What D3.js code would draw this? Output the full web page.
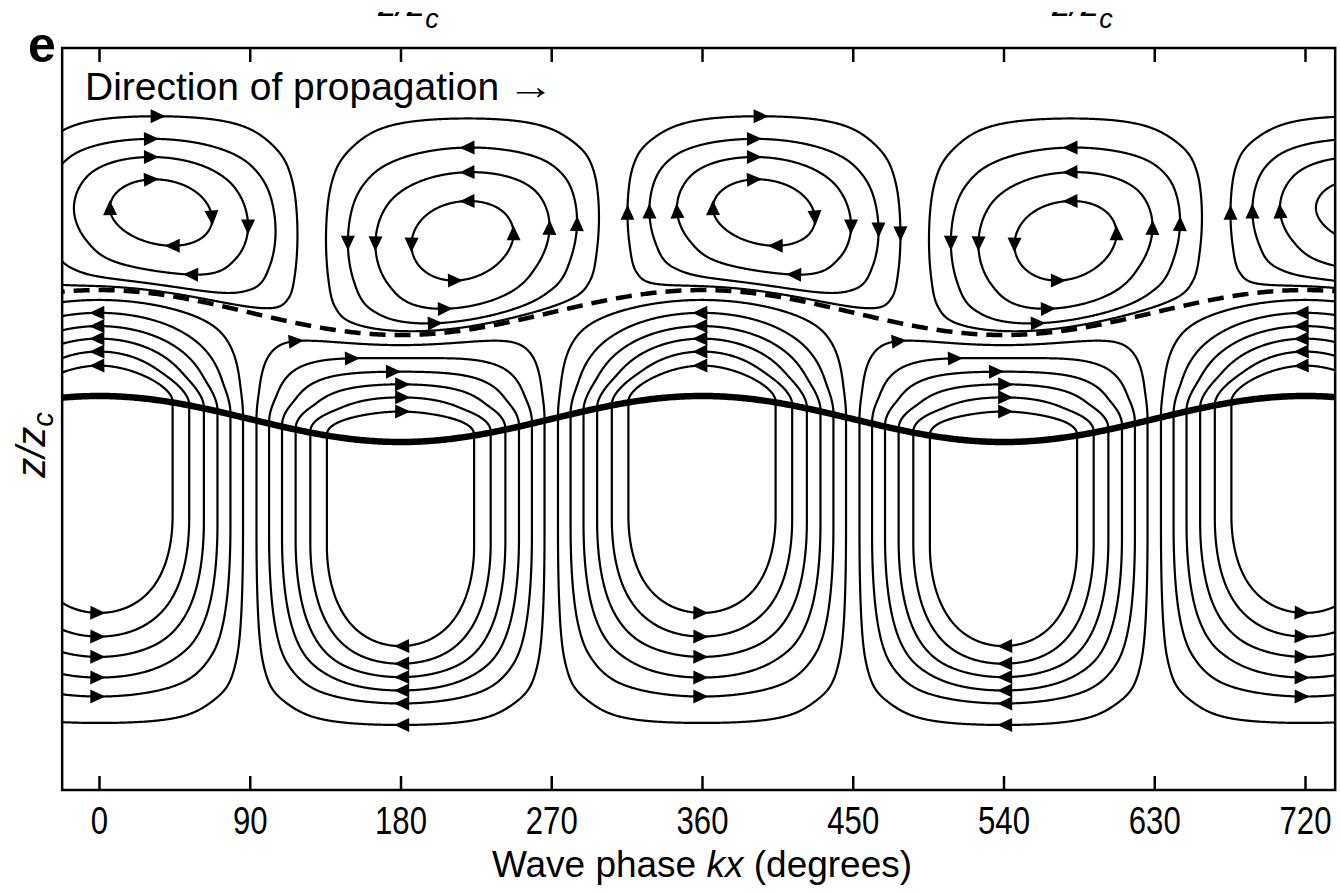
<!DOCTYPE html>
<html>
<head>
<meta charset="utf-8">
<script src="https://cdn.jsdelivr.net/npm/d3@7"></script>
<style>
  html, body { margin: 0; padding: 0; background: #fff; }
  svg { display: block; }
  text { font-family: "Liberation Sans", Arial, Helvetica, sans-serif; fill: #000; }
</style>
</head>
<body>
<svg id="chart" width="1340" height="893"></svg>
<script>
// ---------------- data ----------------
const phaseTicks = [0, 90, 180, 270, 360, 450, 540, 630, 720];
const phaseExtent = [-22, 738];          // wave phase kx (degrees) shown in the frame
const heightExtent = [0, 2];             // z / z_c

// vertical wave displacement amplitude (z/z_c units) against undisturbed height
const dispHeights = [0, 0.178, 0.431, 0.674, 0.997, 1.287, 1.423, 1.62, 1.873, 2.0];
const dispAmps    = [0, 0.0027, 0.0445, 0.0566, 0.062, 0.0606, 0.059, 0.036, 0, 0];

// upper closed cells above the dashed level
const upperPhase = 37;                   // phase of the clockwise cells' centres
const upperProfileZ = [1.286, 1.295, 1.313, 1.349, 1.422, 1.519, 1.616, 1.685, 1.743, 1.813, 1.852];
const upperProfileV = [0, 0.148, 0.368, 0.616, 0.862, 1, 0.862, 0.616, 0.368, 0.148, 0];
const upperLevels = [0.148, 0.368, 0.616, 0.862];

// lower cells spanning the critical level
const lowerProfileZ = [0.151, 0.178, 0.2426, 0.2857, 0.3315, 0.377, 0.4326, 0.698, 1.003, 1.082, 1.120, 1.155, 1.189, 1.225, 1.260, 1.279];
const lowerProfileV = [0, 0.07, 0.20, 0.33, 0.46, 0.59, 0.72, 1, 1, 0.72, 0.59, 0.46, 0.33, 0.20, 0.07, 0];
const lowerLevels = [0.07, 0.20, 0.33, 0.46, 0.59, 0.72];

const criticalZ = 1.0;                   // thick line
const dashedZ = 1.287;                   // dashed line

// flow-direction arrowheads: [phase, displayed z, streamline level index]
const upperArrows = [
  [35, 1.819, 0], [31, 1.755, 1], [31, 1.703, 2], [31, 1.647, 3],
  [6.6, 1.569, 3], [65, 1.542, 3], [88, 1.519, 2], [44, 1.469, 3], [55, 1.396, 2],
  [220, 1.730, 1], [220, 1.666, 2], [220, 1.585, 3],
  [147, 1.474, 1], [164, 1.474, 2], [186, 1.469, 3],
  [247, 1.501, 3], [267.5, 1.515, 2], [284, 1.526, 1],
  [212.5, 1.380, 3], [206.5, 1.307, 2], [200.5, 1.261, 1],
  [395, 1.819, 0], [391, 1.755, 1], [391, 1.703, 2], [391, 1.647, 3],
  [313, 1.555, 0], [329, 1.56, 1], [347, 1.56, 2], [366.6, 1.569, 3],
  [425, 1.542, 3], [448, 1.519, 2], [466, 1.51, 1], [479, 1.50, 0],
  [404, 1.469, 3], [415, 1.396, 2],
  [580, 1.730, 1], [580, 1.666, 2], [580, 1.585, 3],
  [507, 1.474, 1], [524, 1.474, 2], [546, 1.469, 3],
  [607, 1.501, 3], [627.5, 1.515, 2], [644, 1.526, 1],
  [572.5, 1.380, 3], [566.5, 1.307, 2], [560.5, 1.261, 1],
  [673, 1.555, 0], [689, 1.56, 1], [707, 1.56, 2]
];
const lowerArrows = [
  [-1, 1.286, 1], [-1, 1.248, 2], [-1, 1.216, 3], [-1, 1.181, 4], [-1, 1.146, 5],
  [-1, 0.477, 5], [-1, 0.412, 4], [-1, 0.358, 3], [-1, 0.305, 2], [-1, 0.253, 1],
  [117, 1.221, 0], [151, 1.167, 1], [175.5, 1.129, 2], [181, 1.094, 3], [181, 1.059, 4], [181, 1.019, 5],
  [181, 0.396, 5], [181, 0.348, 4], [181, 0.307, 3], [181, 0.267, 2], [181, 0.232, 1], [181, 0.178, 0],
  [359, 1.286, 1], [359, 1.248, 2], [359, 1.216, 3], [359, 1.181, 4], [359, 1.146, 5],
  [359, 0.477, 5], [359, 0.412, 4], [359, 0.358, 3], [359, 0.305, 2], [359, 0.253, 1],
  [477, 1.221, 0], [511, 1.167, 1], [535.5, 1.129, 2], [541, 1.094, 3], [541, 1.059, 4], [541, 1.019, 5],
  [541, 0.396, 5], [541, 0.348, 4], [541, 0.307, 3], [541, 0.267, 2], [541, 0.232, 1], [541, 0.178, 0],
  [718, 1.286, 1], [718, 1.248, 2], [718, 1.216, 3], [718, 1.181, 4], [718, 1.146, 5],
  [718, 0.477, 5], [718, 0.412, 4], [718, 0.358, 3], [718, 0.305, 2], [718, 0.253, 1]
];

// ---------------- helpers ----------------
// monotone cubic (Fritsch–Carlson style) through profile knots
function monotoneProfile(xs, ys) {
  const n = xs.length, h = [], d = [], m = new Array(n);
  for (let i = 0; i < n - 1; i++) { h[i] = xs[i + 1] - xs[i]; d[i] = (ys[i + 1] - ys[i]) / h[i]; }
  m[0] = d[0]; m[n - 1] = d[n - 2];
  for (let i = 1; i < n - 1; i++) {
    if (d[i - 1] * d[i] <= 0) m[i] = 0;
    else {
      const p = (d[i - 1] * h[i] + d[i] * h[i - 1]) / (h[i - 1] + h[i]);
      m[i] = (Math.sign(d[i - 1]) + Math.sign(d[i])) *
             Math.min(Math.abs(d[i - 1]), Math.abs(d[i]), 0.5 * Math.abs(p));
    }
  }
  return v => {
    if (v <= xs[0]) return ys[0];
    if (v >= xs[n - 1]) return ys[n - 1];
    const i = Math.min(n - 2, d3.bisectRight(xs, v) - 1);
    const t = (v - xs[i]) / h[i], t2 = t * t, t3 = t2 * t;
    return (2 * t3 - 3 * t2 + 1) * ys[i] + (t3 - 2 * t2 + t) * h[i] * m[i] +
           (-2 * t3 + 3 * t2) * ys[i + 1] + (t3 - t2) * h[i] * m[i + 1];
  };
}

const rad = Math.PI / 180;
const S = monotoneProfile(upperProfileZ, upperProfileV);
const L = monotoneProfile(lowerProfileZ, lowerProfileV);
const A = monotoneProfile(dispHeights, dispAmps);

const upperCol = ph => Math.cos((ph - upperPhase) * rad);
const lowerCol = ph => -Math.cos(ph * rad);
const psiU = (ph, z) => upperCol(ph) * S(z);
const psiL = (ph, z) => lowerCol(ph) * L(z);

// ---------------- scales ----------------
const svg = d3.select('#chart');
const x = d3.scaleLinear().domain([0, 720]).range([99, 1305]);
const y = d3.scaleLinear().domain(heightExtent).range([790, 48]);
const toPx = (ph, z) => [x(ph), y(z + A(z) * Math.cos(ph * rad))];

svg.append('rect').attr('width', 1340).attr('height', 893).attr('fill', '#fff');

const frameX0 = x(phaseExtent[0]), frameX1 = x(phaseExtent[1]);
const frameY0 = y(heightExtent[1]), frameY1 = y(heightExtent[0]);

svg.append('clipPath').attr('id', 'plotClip')
  .append('rect').attr('x', frameX0).attr('y', frameY0)
  .attr('width', frameX1 - frameX0).attr('height', frameY1 - frameY0);

// ---------------- streamlines from stream-function contours ----------------
function buildStreamlines(colFn, rowFn, zLo, zHi, levels) {
  const ph0 = -30, dph = 0.5, nx = Math.round((750 - ph0) / dph) + 1;
  const dz = 0.002, nz = Math.round((zHi - zLo) / dz) + 1;
  const col = Float64Array.from({length: nx}, (_, i) => colFn(ph0 + i * dph));
  const row = Float64Array.from({length: nz}, (_, j) => rowFn(zLo + j * dz));
  const vals = new Float64Array(nx * nz);
  for (let j = 0; j < nz; j++) for (let i = 0; i < nx; i++) vals[j * nx + i] = Math.abs(col[i] * row[j]);
  const geoms = d3.contours().size([nx, nz]).thresholds(levels)(vals);
  const lines = [];
  geoms.forEach(g => {
    const li = levels.indexOf(g.value);
    g.coordinates.forEach(poly => poly.forEach(ring => {
      const pts = ring.map(([gx, gz]) => [ph0 + (gx - 0.5) * dph, zLo + (gz - 0.5) * dz]);
      lines.push({level: li, pts, px: pts.map(p => toPx(p[0], p[1]))});
    }));
  });
  return lines;
}

const upperLines = buildStreamlines(upperCol, S, 1.26, 1.9, upperLevels);
const lowerLines = buildStreamlines(lowerCol, L, 0.12, 1.30, lowerLevels);

const plot = svg.append('g').attr('clip-path', 'url(#plotClip)');
const lineGen = d3.line();

plot.append('g').selectAll('path')
  .data(upperLines.concat(lowerLines))
  .join('path')
  .attr('d', d => lineGen(d.px))
  .attr('fill', 'none')
  .attr('stroke', '#000')
  .attr('stroke-width', 2.2)
  .attr('stroke-linejoin', 'round');

// displaced reference levels
const phaseSamples = d3.range(-30, 751, 1);
plot.append('path')
  .attr('d', lineGen(phaseSamples.map(ph => toPx(ph, dashedZ))))
  .attr('fill', 'none').attr('stroke', '#000').attr('stroke-width', 4.5)
  .attr('stroke-dasharray', '16 9');
plot.append('path')
  .attr('d', lineGen(phaseSamples.map(ph => toPx(ph, criticalZ))))
  .attr('fill', 'none').attr('stroke', '#000').attr('stroke-width', 6.5);

// ---------------- arrowheads ----------------
function placeArrow(spec, lines, psi) {
  const [ph, z, li] = spec;
  const tx = x(ph), ty = y(z);
  let best = null, bd = Infinity;
  lines.forEach(l => {
    if (l.level !== li) return;
    l.px.forEach((p, k) => {
      const dd = (p[0] - tx) ** 2 + (p[1] - ty) ** 2;
      if (dd < bd) { bd = dd; best = [l, k]; }
    });
  });
  const [l, k] = best;
  const [pv, zv] = l.pts[k];
  const e1 = 0.01, e2 = 0.0001;
  const gx = (psi(pv + e1, zv) - psi(pv - e1, zv)) / (2 * e1);
  const gz = (psi(pv, zv + e2) - psi(pv, zv - e2)) / (2 * e2);
  const dx = -gz, dzz = gx;
  const h = 0.3 / Math.hypot(dx * 1.675, dzz * 371);
  const p0 = toPx(pv, zv), p1 = toPx(pv + h * dx, zv + h * dzz);
  return {x: p0[0], y: p0[1], ang: Math.atan2(p1[1] - p0[1], p1[0] - p0[0]) * 180 / Math.PI};
}

const arrows = upperArrows.map(s => placeArrow(s, upperLines, psiU))
  .concat(lowerArrows.map(s => placeArrow(s, lowerLines, psiL)));

plot.append('g').selectAll('path')
  .data(arrows)
  .join('path')
  .attr('d', 'M8,0L-7,-7L-7,7Z')
  .attr('transform', d => `translate(${d.x},${d.y}) rotate(${d.ang})`)
  .attr('fill', '#000');

// ---------------- axes & frame ----------------
function narrowFontAvailable() {
  const t = svg.append('text').attr('font-size', 40).style('font-family', '"Liberation Sans Narrow", monospace').text('0123456789');
  const w1 = t.node().getComputedTextLength();
  t.style('font-family', 'monospace');
  const w2 = t.node().getComputedTextLength();
  t.remove();
  return Math.abs(w1 - w2) > 0.5;
}
const hasNarrow = narrowFontAvailable();

const bottomAxis = svg.append('g')
  .attr('transform', `translate(0,${frameY1})`)
  .call(d3.axisBottom(x).tickValues(phaseTicks).tickSizeInner(-14).tickSizeOuter(0).tickPadding(17));
bottomAxis.select('.domain').remove();
bottomAxis.selectAll('line').attr('stroke', '#000').attr('stroke-width', 2.5);
bottomAxis.selectAll('text')
  .style('font-family', hasNarrow ? '"Liberation Sans Narrow", "Liberation Sans", sans-serif' : '"Liberation Sans", sans-serif')
  .attr('font-size', 38)
  .attr('transform', hasNarrow ? null : 'scale(0.82,1)');

const topAxis = svg.append('g')
  .attr('transform', `translate(0,${frameY0})`)
  .call(d3.axisTop(x).tickValues(phaseTicks).tickSizeInner(-14).tickSizeOuter(0).tickFormat(() => ''));
topAxis.select('.domain').remove();
topAxis.selectAll('line').attr('stroke', '#000').attr('stroke-width', 2.5);

svg.append('rect')
  .attr('x', frameX0).attr('y', frameY0)
  .attr('width', frameX1 - frameX0).attr('height', frameY1 - frameY0)
  .attr('fill', 'none').attr('stroke', '#000').attr('stroke-width', 2.5);

// ---------------- text ----------------
svg.append('text').attr('x', 28).attr('y', 62)
  .attr('font-size', 50).attr('font-weight', 'bold').text('e');

svg.append('text').attr('x', 85).attr('y', 100)
  .attr('font-size', 39).text('Direction of propagation');
svg.append('text').attr('x', 507).attr('y', 99)
  .attr('font-size', 38).attr('textLength', 47).attr('lengthAdjust', 'spacingAndGlyphs')
  .text('\u2192');

const xLabel = svg.append('text').attr('x', 702).attr('y', 877)
  .attr('text-anchor', 'middle').attr('font-size', 37);
xLabel.append('tspan').text('Wave phase ');
xLabel.append('tspan').attr('font-style', 'italic').text('kx');
xLabel.append('tspan').text(' (degrees)');

const yLabel = svg.append('text')
  .attr('transform', 'translate(45,445) rotate(-90)')
  .attr('text-anchor', 'middle').attr('font-size', 40);
yLabel.append('tspan').attr('font-style', 'italic').text('z/z');
yLabel.append('tspan').attr('font-style', 'italic').attr('font-size', 29).attr('dy', 8).text('c');

// level labels running in from the panel above (only their lower edge shows)
svg.append('clipPath').attr('id', 'topClip')
  .append('rect').attr('x', 0).attr('y', 12).attr('width', 1340).attr('height', 28);
const topLabels = svg.append('g').attr('clip-path', 'url(#topClip)');
[378, 1052].forEach(x0 => {
  const t = topLabels.append('text').attr('x', x0).attr('y', 15.5).attr('font-size', 37);
  t.append('tspan').attr('font-style', 'italic').text('z/z');
  t.append('tspan').attr('font-style', 'italic').attr('font-size', 27).attr('dy', 12).text('c');
});
</script>
</body>
</html>
